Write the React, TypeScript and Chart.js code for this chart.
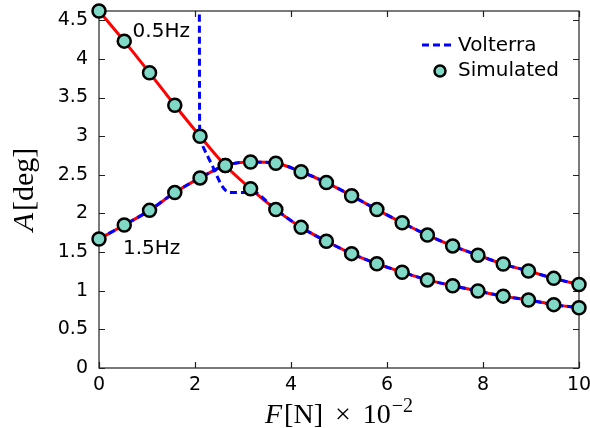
import React, { useEffect, useRef } from "react";
import { Chart, registerables } from "chart.js";

Chart.register(...registerables);

// Force values F [N x 10^-2]
const forceX = [0, 0.526, 1.053, 1.579, 2.105, 2.632, 3.158, 3.684, 4.211, 4.737, 5.263, 5.789, 6.316, 6.842, 7.368, 7.895, 8.421, 8.947, 9.474, 10];
// Simulated amplitude A [deg], 0.5 Hz
const sim05 = [4.62, 4.23, 3.82, 3.40, 3.00, 2.62, 2.32, 2.05, 1.82, 1.64, 1.48, 1.35, 1.24, 1.14, 1.065, 0.996, 0.93, 0.88, 0.82, 0.78];
// Simulated amplitude A [deg], 1.5 Hz
const sim15 = [1.67, 1.85, 2.04, 2.27, 2.46, 2.62, 2.665, 2.65, 2.54, 2.40, 2.23, 2.05, 1.88, 1.72, 1.58, 1.46, 1.345, 1.255, 1.16, 1.08];
// Volterra prediction, 0.5 Hz (diverges below ~2.1)
const volt05X = [2.09, 2.095, 2.10, 2.14, 2.36, 2.58, 2.72, 3.0, 3.158, 3.684, 4.211, 4.737, 5.263, 5.789, 6.316, 6.842, 7.368, 7.895, 8.421, 8.947, 9.474, 10];
const volt05 = [5.0, 3.3, 3.05, 2.90, 2.62, 2.34, 2.27, 2.27, 2.29, 2.05, 1.82, 1.64, 1.48, 1.35, 1.24, 1.14, 1.065, 0.996, 0.93, 0.88, 0.82, 0.78];
// Volterra prediction, 1.5 Hz
const volt15 = [1.67, 1.85, 2.04, 2.27, 2.46, 2.62, 2.665, 2.65, 2.54, 2.40, 2.23, 2.05, 1.88, 1.72, 1.58, 1.46, 1.345, 1.255, 1.16, 1.08];

const xTicks = [0, 2, 4, 6, 8, 10];
const yTicks = [0, 0.5, 1, 1.5, 2, 2.5, 3, 3.5, 4, 4.5];
const seriesLabels = ["Volterra", "Simulated"];
const freqLabels = ["0.5Hz", "1.5Hz"];

const RED = "#ff0000";
const BLUE = "#0000ff";
const TEAL = "#80d8c6";
const SANS = "'DejaVu Sans', sans-serif";
const SERIF = "'Liberation Serif', 'DejaVu Serif', serif";

const pts = (xs: number[], ys: number[]) => xs.map((x, i) => ({ x, y: ys[i] }));

const decorPlugin = {
  id: "decor",
  beforeDatasetsDraw(chart: any) {
    const { ctx, chartArea: a, scales } = chart;
    ctx.save();
    ctx.strokeStyle = "#222";
    ctx.lineWidth = 1.2;
    ctx.strokeRect(a.left, a.top, a.right - a.left, a.bottom - a.top);
    const tl = 6;
    ctx.beginPath();
    xTicks.forEach((v) => {
      const px = Math.round(scales.x.getPixelForValue(v)) + 0.5;
      ctx.moveTo(px, a.bottom);
      ctx.lineTo(px, a.bottom - tl);
      ctx.moveTo(px, a.top);
      ctx.lineTo(px, a.top + tl);
    });
    yTicks.forEach((v) => {
      const py = Math.round(scales.y.getPixelForValue(v)) + 0.5;
      ctx.moveTo(a.left, py);
      ctx.lineTo(a.left + tl, py);
      ctx.moveTo(a.right, py);
      ctx.lineTo(a.right - tl, py);
    });
    ctx.stroke();
    ctx.restore();
  },
  afterDraw(chart: any) {
    const { ctx, chartArea: a, scales } = chart;
    ctx.save();
    // frequency annotations
    ctx.fillStyle = "#000";
    ctx.font = `20px ${SANS}`;
    ctx.textBaseline = "middle";
    ctx.textAlign = "left";
    ctx.fillText(freqLabels[0], scales.x.getPixelForValue(0.7), scales.y.getPixelForValue(4.35));
    ctx.fillText(freqLabels[1], scales.x.getPixelForValue(0.5), scales.y.getPixelForValue(1.54));

    // legend
    const lx = a.right - 157;
    const ly1 = a.top + 34;
    const ly2 = a.top + 60;
    ctx.strokeStyle = BLUE;
    ctx.lineWidth = 3;
    ctx.setLineDash([7, 4]);
    ctx.beginPath();
    ctx.moveTo(lx, ly1);
    ctx.lineTo(lx + 32, ly1);
    ctx.stroke();
    ctx.setLineDash([]);
    ctx.beginPath();
    ctx.arc(lx + 18, ly2, 5.5, 0, Math.PI * 2);
    ctx.fillStyle = TEAL;
    ctx.fill();
    ctx.lineWidth = 2.5;
    ctx.strokeStyle = "#000";
    ctx.stroke();
    ctx.fillStyle = "#000";
    ctx.font = `20px ${SANS}`;
    ctx.fillText(seriesLabels[0], lx + 36, ly1 + 1);
    ctx.fillText(seriesLabels[1], lx + 36, ly2);

    // y-axis title: A[deg]
    ctx.save();
    ctx.translate(33, (a.top + a.bottom) / 2);
    ctx.rotate(-Math.PI / 2);
    ctx.textBaseline = "alphabetic";
    const fs = 30;
    ctx.font = `italic ${fs}px ${SERIF}`;
    const wA = ctx.measureText("A").width;
    ctx.font = `${fs}px ${SERIF}`;
    const wRest = ctx.measureText("[deg]").width;
    const sx = -(wA + wRest + 2) / 2;
    ctx.font = `italic ${fs}px ${SERIF}`;
    ctx.fillText("A", sx, 0);
    ctx.font = `${fs}px ${SERIF}`;
    ctx.fillText("[deg]", sx + wA + 2, 0);
    ctx.restore();

    // x-axis title: F[N] × 10^-2
    const xs = 28;
    const gap = 12;
    const parts: [string, string, number][] = [
      ["F", `italic ${xs}px ${SERIF}`, 2],
      ["[N]", `${xs}px ${SERIF}`, gap],
      ["\u00d7", `${xs}px ${SERIF}`, gap],
      ["10", `${xs}px ${SERIF}`, 1],
    ];
    const sup = "\u22122";
    const supFont = `${Math.round(xs * 0.72)}px ${SERIF}`;
    let total = 0;
    parts.forEach(([t, f, g]) => {
      ctx.font = f;
      total += ctx.measureText(t).width + g;
    });
    ctx.font = supFont;
    total += ctx.measureText(sup).width;
    let cx = (a.left + a.right) / 2 - total / 2;
    const by = 423;
    ctx.textBaseline = "alphabetic";
    parts.forEach(([t, f, g]) => {
      ctx.font = f;
      ctx.fillText(t, cx, by);
      cx += ctx.measureText(t).width + g;
    });
    ctx.font = supFont;
    ctx.fillText(sup, cx, by - 11);
    ctx.restore();
  },
};

export default function App() {
  const ref = useRef<HTMLCanvasElement | null>(null);
  useEffect(() => {
    document.body.style.margin = "0";
    const canvas = ref.current;
    if (!canvas) return;
    const lineBase = {
      showLine: true,
      pointRadius: 0,
      pointHoverRadius: 0,
      fill: false,
      cubicInterpolationMode: "monotone" as const,
      borderWidth: 3,
    };
    const markerBase = {
      showLine: false,
      pointRadius: 6.5,
      pointHoverRadius: 6.5,
      pointBackgroundColor: TEAL,
      pointBorderColor: "#000",
      pointBorderWidth: 2.5,
      clip: false as any,
      order: 0,
    };
    const chart = new Chart(canvas, {
      type: "scatter",
      data: {
        datasets: [
          { ...lineBase, label: "ref05", data: pts(forceX, sim05), borderColor: RED, order: 2 },
          { ...lineBase, label: "ref15", data: pts(forceX, sim15), borderColor: RED, order: 2 },
          { ...lineBase, label: seriesLabels[0], data: pts(volt05X, volt05), borderColor: BLUE, borderDash: [7, 4], order: 1 },
          { ...lineBase, label: seriesLabels[0] + " 1.5", data: pts(forceX, volt15), borderColor: BLUE, borderDash: [7, 4], order: 1 },
          { ...markerBase, label: seriesLabels[1], data: pts(forceX, sim05) },
          { ...markerBase, label: seriesLabels[1] + " 1.5", data: pts(forceX, sim15) },
        ],
      },
      options: {
        animation: false,
        responsive: false,
        devicePixelRatio: 1,
        layout: { padding: { left: 0, right: 11, top: 11, bottom: 0 } },
        plugins: { legend: { display: false }, tooltip: { enabled: false } },
        scales: {
          x: {
            type: "linear",
            min: 0,
            max: 10,
            grid: { display: false, drawTicks: false },
            border: { display: false },
            afterBuildTicks: (s: any) => {
              s.ticks = xTicks.map((v) => ({ value: v }));
            },
            afterFit: (s: any) => {
              s.height = 60;
              s.paddingLeft = 0;
              s.paddingRight = 0;
            },
            ticks: {
              padding: 6,
              color: "#000",
              font: { family: SANS, size: 19 },
              maxRotation: 0,
              callback: (v: any) => String(v),
            },
          },
          y: {
            type: "linear",
            min: 0,
            max: 4.62,
            grid: { display: false, drawTicks: false },
            border: { display: false },
            afterBuildTicks: (s: any) => {
              s.ticks = yTicks.map((v) => ({ value: v }));
            },
            afterFit: (s: any) => {
              s.width = 99;
              s.paddingTop = 0;
              s.paddingBottom = 0;
            },
            ticks: {
              padding: 11,
              color: "#000",
              font: { family: SANS, size: 19 },
              callback: (v: any) => String(v),
            },
          },
        },
      },
      plugins: [decorPlugin],
    });
    return () => chart.destroy();
  }, []);
  return (
    <div style={{ width: 590, height: 428 }}>
      <canvas ref={ref} width={590} height={428} />
    </div>
  );
}
